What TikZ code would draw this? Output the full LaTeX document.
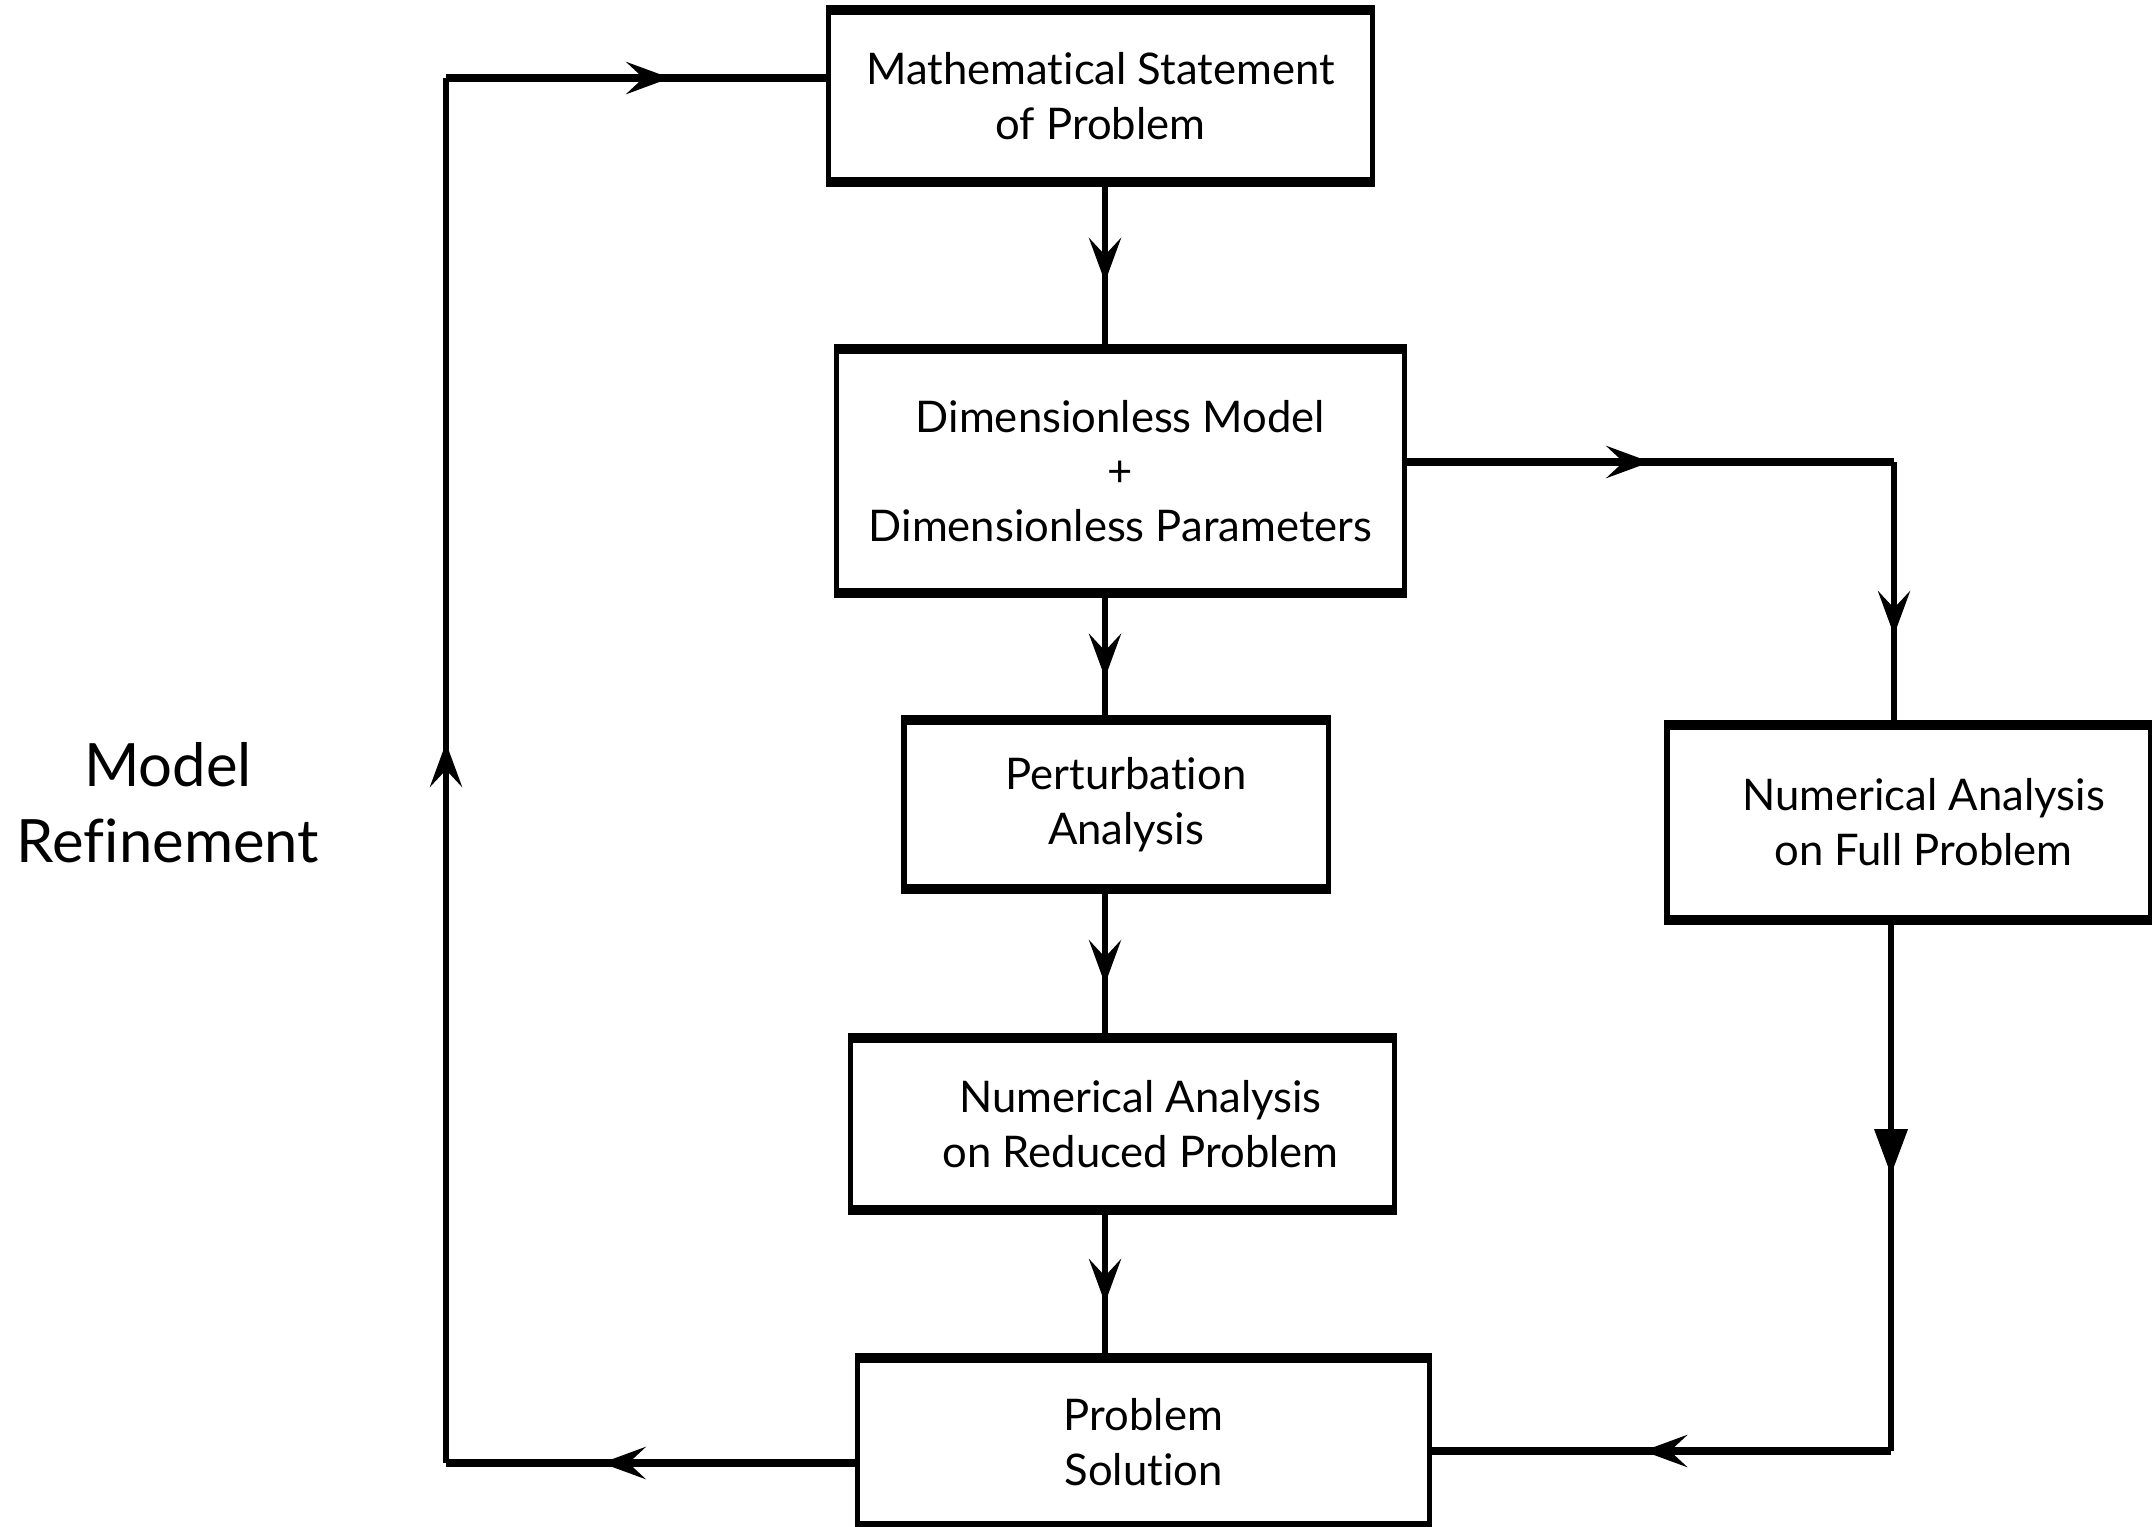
\documentclass[tikz,border=0pt]{standalone}
\usepackage{fontspec}
\setmainfont{Lato}[Ligatures=NoCommon]
\usetikzlibrary{arrows.meta,decorations.markings}
\tikzset{
  myst/.tip={Stealth[length=4.4mm,width=3.2mm,inset=1.7mm]},
  mytri/.tip={Triangle[length=4.6mm,width=3.2mm]},
  box/.style={draw,line width=1.5pt,align=center,inner sep=0pt,
    font=\fontsize{12.4}{15.6}\selectfont},
  vline/.style={line width=1.8pt},
  hline/.style={line width=2.4pt,line cap=square},
  midarrow/.style={postaction={decorate,decoration={markings,
    mark=at position #1 with {\arrow{myst}}}}},
  midtri/.style={postaction={decorate,decoration={markings,
    mark=at position #1 with {\arrow{mytri}}}}},
}
\begin{document}
\begin{tikzpicture}[x=0.01cm,y=-0.01cm]
\useasboundingbox (0,0) rectangle (2152,1526);
\fill[white] (0,0) rectangle (2152,1526);

\node[box,minimum width=5.43cm,minimum height=1.68cm] (A) at (1100.5,96)
  {Mathematical Statement\\of Problem};
\node[box,minimum width=5.67cm,minimum height=2.40cm] (B) at (1120.5,471)
  {Dimensionless Model\\+\\Dimensionless Parameters};
\node[box,minimum width=4.24cm,minimum height=1.65cm] (C) at (1116,804.5)
  {\hspace*{0.2cm}Perturbation\\\hspace*{0.2cm}Analysis};
\node[box,minimum width=5.43cm,minimum height=1.68cm] (D) at (1122.5,1124)
  {\hspace*{0.36cm}Numerical Analysis\\\hspace*{0.36cm}on Reduced Problem};
\node[box,minimum width=5.71cm,minimum height=1.64cm] (E) at (1143.5,1442)
  {Problem\\Solution};
\node[box,minimum width=4.83cm,minimum height=1.91cm] (F) at (1908.5,822.5)
  {\hspace*{0.3cm}Numerical Analysis\\\hspace*{0.3cm}on Full Problem};
\foreach \n in {A,B,C,D,E,F}
  \draw[line width=2.3pt] (\n.north west) -- (\n.north east) (\n.south west) -- (\n.south east);

\node[align=center,font=\fontsize{17}{21.5}\selectfont] (MR) at (168,803) {Model\\Refinement};

\coordinate (colx) at (1105,0);
\coordinate (rt) at (1894,462);
\coordinate (rb) at (1891,1451);
\coordinate (lb) at (446,1463);
\coordinate (lt) at (446,78);

\draw[vline,midarrow=0.6] (A.south -| colx) -- (B.north -| colx);
\draw[vline,midarrow=0.67] (B.south -| colx) -- (C.north -| colx);
\draw[vline,midarrow=0.64] (C.south -| colx) -- (D.north -| colx);
\draw[vline,midarrow=0.63] (D.south -| colx) -- (E.north -| colx);

\draw[hline,midarrow=0.5] (B.east |- rt) -- (rt);
\draw[vline,midarrow=0.66] (rt) -- (F.north -| rt);
\draw[vline,midtri=0.48] (F.south -| rb) -- (rb);
\draw[hline,midarrow=0.54] (rb) -- (E.east |- rb);
\draw[hline,midarrow=0.62] (E.west |- lb) -- (lb);
\draw[vline,midarrow=0.52] (lb) -- (lt);
\draw[hline,midarrow=0.59] (lt) -- (A.west |- lt);
\end{tikzpicture}
\end{document}
